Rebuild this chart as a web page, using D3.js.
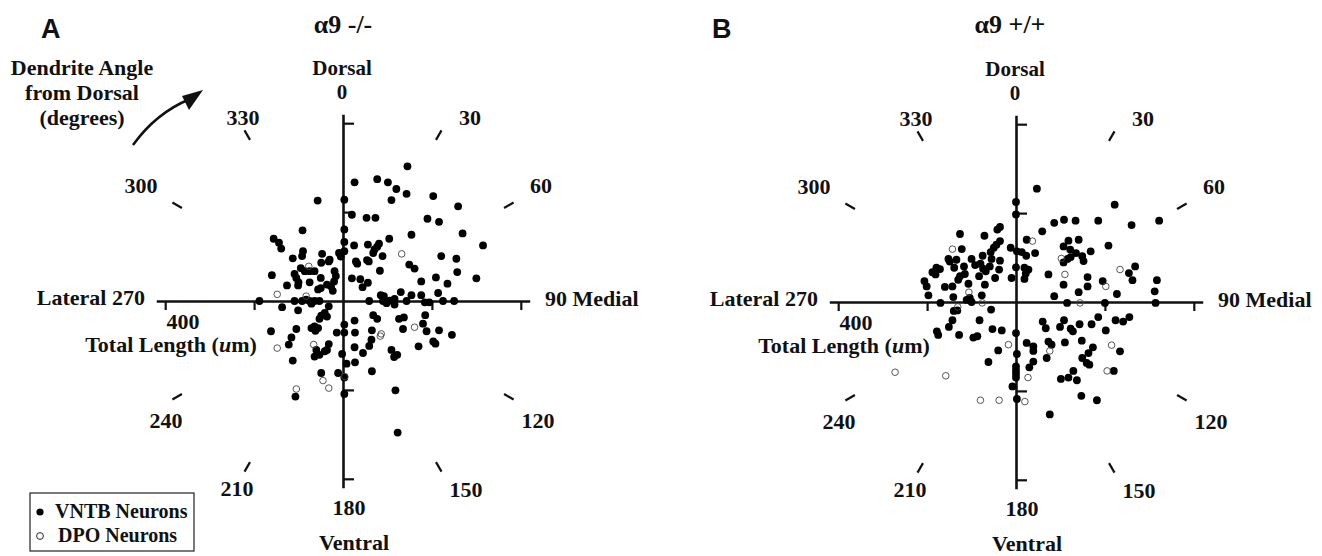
<!DOCTYPE html>
<html>
<head>
<meta charset="utf-8">
<script src="https://cdn.jsdelivr.net/npm/d3@7"></script>
<style>
  body { margin: 0; background: #fff; }
  svg { display: block; }
  text { font-family: "Liberation Serif", "Times New Roman", serif; font-weight: bold; fill: #111; }
</style>
</head>
<body>
<svg id="chart"></svg>
<script>
const width = 1322, height = 556;

// dendrite vectors: [medial(+)/lateral(-), dorsal(+)/ventral(-)] in um
const vntbKO = [
  [145,303],[26,267],[77,274],[101,267],[120,252],[143,241],[109,227],[203,236],[-57,226],[3,228],
  [259,213],[20,194],[53,187],[73,187],[190,185],[216,178],[-91,159],[3,161],[154,149],[269,152],
  [-156,140],[-144,131],[-139,118],[3,133],[25,125],[56,127],[81,129],[77,122],[71,116],[68,108],
  [104,140],[315,125],[-90,112],[-92,101],[-113,96],[-47,106],[-9,108],[-5,100],[3,112],[89,101],
  [221,101],[255,95],[-49,86],[-32,89],[-30,93],[29,89],[32,84],[54,92],[58,89],[149,82],
  [161,73],[-95,74],[-86,67],[-75,67],[-64,67],[-160,58],[-109,61],[-105,52],[-100,42],[-101,35],
  [-19,67],[-16,56],[-20,44],[-27,33],[83,68],[257,65],[-50,52],[-75,42],[-36,37],[-50,29],
  [-56,26],[-23,23],[-126,35],[20,51],[39,49],[56,41],[44,31],[176,44],[209,53],[235,39],
  [300,51],[85,13],[92,11],[116,5],[130,20],[154,13],[176,13],[214,18],
  [-188,0],[-109,0],[-92,0],[-83,3],[-75,0],[-71,-6],[-64,0],[-53,0],[59,0],[90,0],
  [98,-5],[105,1],[116,-8],[143,0],[184,-3],[194,-3],[225,0],[250,0],
  [-137,-14],[-101,-21],[-32,-12],[-49,-33],[-41,-27],[-36,-35],[-53,-40],[68,-32],[77,-40],[126,-40],
  [137,-37],[185,-32],[180,-51],[26,-44],[3,-53],[3,-71],[-14,-71],[27,-71],[-162,-68],[-105,-63],
  [-71,-61],[-64,-57],[-56,-61],[-62,-67],[65,-66],[64,-87],[59,-101],[135,-63],[188,-68],[216,-66],
  [245,-76],[-116,-82],[-122,-98],[-60,-110],[-64,-125],[-53,-121],[-41,-113],[-32,-97],[-36,-110],[26,-104],
  [45,-117],[-2,-119],[109,-110],[122,-121],[115,-126],[170,-102],[203,-91],[208,-96],[-113,-134],[8,-141],
  [27,-138],[-49,-162],[-11,-162],[65,-158],[3,-172],[3,-209],[-107,-215],[118,-201],[123,-296]
];
const dpoKO = [
  [132,106],[-77,78],[-148,15],[-83,11],[161,-59],[86,-74],[84,-79],[-148,-106],[-66,-98],
  [-45,-179],[-32,-196],[-105,-198],[4,-170]
];
const vntbWT = [
  [47,255],[0,225],[0,197],[222,219],[322,183],[260,173],[185,183],[134,183],[108,185],[86,178],
  [59,159],[24,140],[-12,122],[2,114],[13,112],[23,104],[43,110],[-36,169],[-42,163],[-126,153],
  [-71,149],[-36,137],[-44,129],[-50,122],[-57,112],[-122,119],[-152,97],[-149,91],[-134,95],[-100,97],
  [-75,104],[-55,97],[-36,93],[-179,77],[-171,74],[-188,67],[-181,62],[-139,77],[-117,80],[-92,83],
  [-80,86],[-74,75],[-68,69],[-115,63],[-126,58],[-130,50],[-83,58],[-47,54],[-59,80],[-38,73],
  [-206,47],[-201,35],[-160,34],[-143,35],[-107,41],[-70,39],[-10,54],[0,78],[19,77],[22,64],
  [28,73],[19,52],[-197,15],[-141,11],[-111,5],[-104,9],[-100,0],[-77,15],[-170,-2],[107,125],
  [118,138],[141,140],[122,118],[135,110],[149,103],[152,92],[168,114],[107,89],[116,97],[123,101],
  [208,127],[73,62],[107,39],[86,13],[115,-2],[141,22],[161,56],[161,35],[195,47],[227,18],
  [200,-2],[254,65],[262,49],[268,80],[317,49],[312,24],[314,-2],
  [-140,-20],[-132,-19],[-56,-17],[-143,-41],[-151,-56],[-178,-66],[-175,-74],[-128,-74],[-96,-80],[-87,-77],
  [-82,-41],[-53,-61],[-32,-64],[0,-70],[2,-117],[-40,-109],[-62,-135],[24,-92],[39,-100],[39,-110],
  [60,-44],[67,-59],[99,-56],[108,-41],[123,-60],[128,-66],[143,-50],[170,-50],[185,-34],[202,-64],
  [224,-41],[241,-44],[255,-34],[73,-89],[80,-96],[110,-91],[148,-87],[173,-102],[163,-115],[149,-126],
  [159,-137],[165,-141],[234,-111],[69,-126],[39,-134],[30,-147],[0,-145],[0,-154],[0,-162],[0,-170],
  [-8,-190],[2,-218],[101,-173],[118,-170],[129,-155],[137,-176],[147,-211],[182,-221],[220,-155],[76,-253]
];
const dpoWT = [
  [37,137],[-143,119],[-106,22],[-76,-2],[-131,-11],[102,98],[110,62],[202,35],[234,73],[144,-2],
  [-17,-96],[76,-110],[215,-97],[27,-170],[20,-224],[-38,-221],[-80,-221],[-158,-166],[-272,-158],[205,-155]
];

const panelLetters = ["A", "B"];
const panelTitles = ["α9 -/-", "α9 +/+"];
const angleTicks = [30, 60, 120, 150, 210, 240, 300, 330];
const angleLabels = ["30", "60", "120", "150", "180", "210", "240", "300", "330"];
const lengthTicks = [-400, -200, 200, 400];
const legendLabels = ["VNTB Neurons", "DPO Neurons"];

const svg = d3.select("#chart").attr("width", width).attr("height", height);

// layout (pixel offsets from each panel's centre)
const labelPos = {
  "30": [127, -176], "60": [198, -108], "120": [195, 127], "150": [123, 196],
  "180": [6, 214], "210": [-106, 195], "240": [-177, 127], "300": [-202, -108], "330": [-100, -176]
};

const panels = [
  {cx: 343, cy: 301, vntb: vntbKO, dpo: dpoKO, letterX: 41, titleDx: 0},
  {cx: 1016, cy: 302, vntb: vntbWT, dpo: dpoWT, letterX: 712, titleDx: -6}
];
const R = 186.7;   // pixel half-length of each axis (420 um)

panels.forEach((p, i) => {
  const g = svg.append("g");
  const x = d3.scaleLinear().domain([-420, 420]).range([p.cx - R, p.cx + R]);
  const y = d3.scaleLinear().domain([-420, 420]).range([p.cy + R, p.cy - R]);

  g.append("text").text(panelLetters[i])
    .attr("x", p.letterX).attr("y", 38)
    .style("font-family", "'Liberation Sans', Arial, sans-serif")
    .style("font-size", "27px");
  g.append("text").text(panelTitles[i])
    .attr("x", p.cx + p.titleDx).attr("y", 33)
    .attr("text-anchor", "middle")
    .style("font-size", "26px");

  // cross-hair axes
  const xAxis = g.append("g").attr("transform", `translate(0,${p.cy})`)
    .call(d3.axisBottom(x).tickValues(lengthTicks).tickSize(9).tickSizeOuter(0).tickFormat(""));
  const yAxis = g.append("g").attr("transform", `translate(${p.cx},0)`)
    .call(d3.axisRight(y).tickValues(lengthTicks).tickSize(11).tickSizeOuter(0).tickFormat(""));
  [xAxis, yAxis].forEach(a => {
    a.select(".domain").attr("stroke", "#111").attr("stroke-width", 2.6);
    a.selectAll(".tick line").attr("stroke", "#111").attr("stroke-width", 2.2);
  });

  // angle tick marks
  g.selectAll(".atick").data(angleTicks).join("line")
    .attr("class", "atick")
    .attr("x1", d => p.cx + 186 * Math.sin(d * Math.PI / 180))
    .attr("y1", d => p.cy - 186 * Math.cos(d * Math.PI / 180))
    .attr("x2", d => p.cx + 197 * Math.sin(d * Math.PI / 180))
    .attr("y2", d => p.cy - 197 * Math.cos(d * Math.PI / 180))
    .attr("stroke", "#111").attr("stroke-width", 2.2);

  g.selectAll(".alabel").data(angleLabels).join("text")
    .attr("class", "alabel")
    .attr("x", d => p.cx + labelPos[d][0])
    .attr("y", d => p.cy + labelPos[d][1])
    .attr("text-anchor", "middle")
    .style("font-size", "22px")
    .text(d => d);

  const lab = (t, dx, dy, anchor, fs = 22) => g.append("text").text(t)
    .attr("x", p.cx + dx).attr("y", p.cy + dy)
    .attr("text-anchor", anchor).style("font-size", fs + "px");
  lab("Dorsal", -1, -226, "middle", 21);
  lab("0", -1, -202, "middle", 21);
  lab("Ventral", 11, 249, "middle");
  lab("Lateral 270", -198, 4, "end");
  lab("90 Medial", 202, 5, "start");
  lab("400", -160, 28, "middle");
  const tl = lab("", -172, 51, "middle");
  tl.append("tspan").text("Total Length (");
  tl.append("tspan").text("u").style("font-style", "italic");
  tl.append("tspan").text("m)");

  // points
  g.selectAll(".vntb").data(p.vntb).join("circle")
    .attr("class", "vntb")
    .attr("cx", d => x(d[0])).attr("cy", d => y(d[1]))
    .attr("r", 3.9).attr("fill", "#000");
  g.selectAll(".dpo").data(p.dpo).join("circle")
    .attr("class", "dpo")
    .attr("cx", d => x(d[0])).attr("cy", d => y(d[1]))
    .attr("r", 3.3).attr("fill", "none")
    .attr("stroke", "#444").attr("stroke-width", 0.9);
});

// dendrite angle note with curved arrow
const note = svg.append("text").attr("text-anchor", "middle").style("font-size", "22px");
["Dendrite Angle", "from Dorsal", "(degrees)"].forEach((t, k) => {
  note.append("tspan").attr("x", 82).attr("y", 75 + k * 25).text(t);
});
svg.append("path")
  .attr("d", "M133,145 Q156,113 190,99")
  .attr("fill", "none").attr("stroke", "#111").attr("stroke-width", 2.5);
svg.append("path")
  .attr("d", "M203,90 L182,96 L189,110 Z")
  .attr("fill", "#111");

// legend
const lg = svg.append("g");
lg.append("rect").attr("x", 30).attr("y", 493).attr("width", 164).attr("height", 58)
  .attr("fill", "none").attr("stroke", "#222").attr("stroke-width", 1.2);
lg.append("circle").attr("cx", 40).attr("cy", 512).attr("r", 3.6).attr("fill", "#000");
lg.append("circle").attr("cx", 40).attr("cy", 536).attr("r", 3.4)
  .attr("fill", "none").attr("stroke", "#222").attr("stroke-width", 1);
lg.selectAll(".ltext").data(legendLabels).join("text")
  .attr("class", "ltext")
  .attr("x", (d, k) => k ? 58 : 55)
  .attr("y", (d, k) => 518 + k * 24)
  .style("font-size", "20px")
  .text(d => d);
</script>
</body>
</html>
